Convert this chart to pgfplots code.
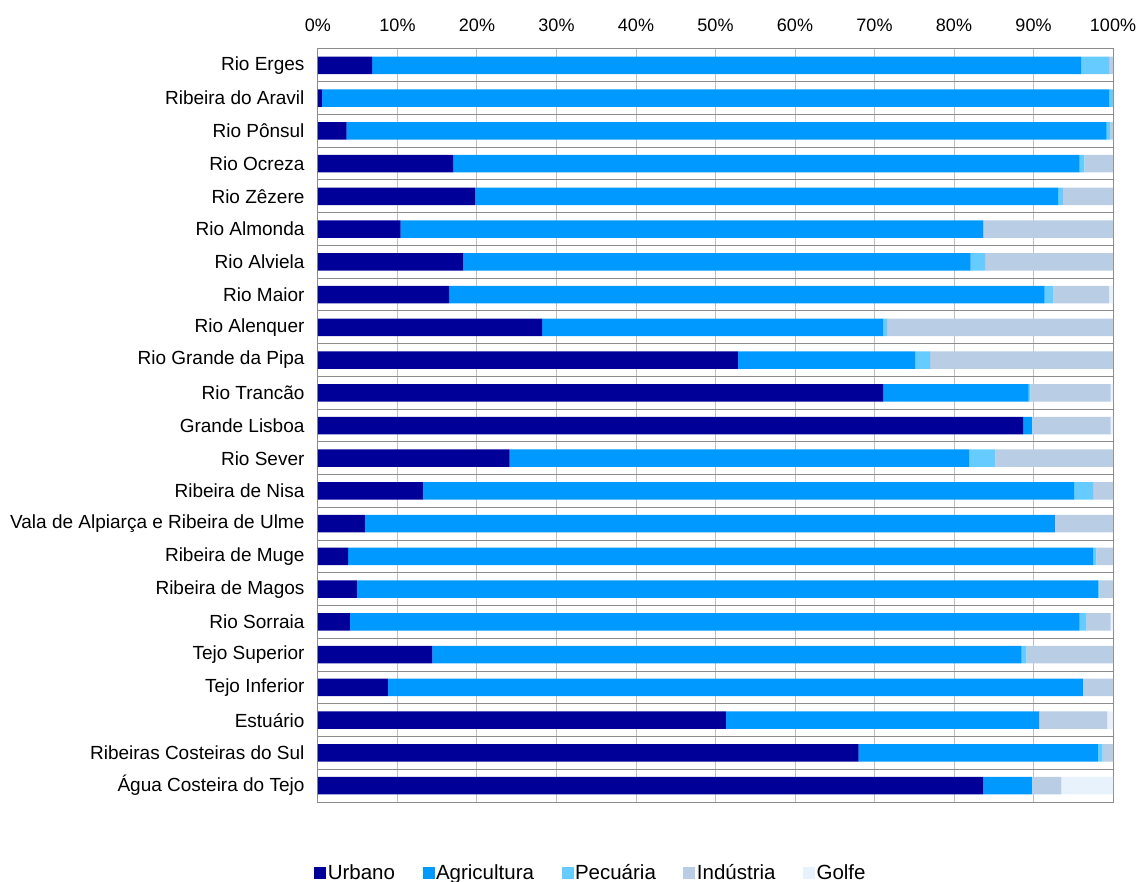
\documentclass[border=0pt]{standalone}
\usepackage{pgfplots}
\pgfplotsset{compat=1.18}
\usepackage{pgfplotstable}
\usepackage{fontspec}
\setmainfont{Liberation Sans}
\definecolor{cUrb}{RGB}{0,0,153}
\definecolor{cAgr}{RGB}{0,153,255}
\definecolor{cPec}{RGB}{102,204,255}
\definecolor{cInd}{RGB}{185,205,229}
\definecolor{cGol}{RGB}{232,242,252}
\definecolor{gridv}{RGB}{192,192,192}
\definecolor{gridh}{RGB}{140,140,140}

\pgfplotstableread{
i U A P I G
0 6.8 89.2 3.5 0.5 0
1 0.5 99.0 0.5 0 0
2 3.6 95.6 0.4 0.4 0
3 17.0 78.8 0.6 3.6 0
4 19.8 73.3 0.6 6.3 0
5 10.4 73.3 0 16.3 0
6 18.3 63.8 1.8 16.1 0
7 16.5 74.9 1.1 7.0 0.5
8 28.2 42.9 0.5 28.4 0
9 52.8 22.3 1.9 23.0 0
10 71.1 18.3 0.2 10.1 0.3
11 88.7 1.1 0 9.9 0.3
12 24.1 57.8 3.3 14.8 0
13 13.2 81.9 2.4 2.5 0
14 5.9 86.8 0 7.3 0
15 3.8 93.7 0.4 2.1 0
16 4.9 93.2 0.2 1.7 0
17 4.0 91.8 0.8 3.1 0.3
18 14.4 74.1 0.6 10.9 0
19 8.8 87.4 0.1 3.7 0
20 51.3 39.4 0 8.6 0.7
21 68.0 30.1 0.6 1.3 0
22 83.7 6.1 0 3.7 6.5
}\data

\begin{document}
\begin{tikzpicture}
\useasboundingbox (-318pt,-80pt) rectangle (822pt,802pt);
\begin{axis}[
  at={(0pt,0pt)}, anchor=south west,
  scale only axis, width=795pt, height=753pt,
  xbar stacked, bar width=17.5pt,
  xmin=0, xmax=100, ymin=-0.5, ymax=22.5, y dir=reverse,
  xtick={0,10,...,100},
  xticklabel pos=right,
  xticklabel={\pgfmathprintnumber{\tick}\%},
  /pgf/number format/assume math mode=true,
  xticklabel style={font=\fontsize{18}{21}\selectfont, yshift=14pt},
  xmajorgrids=true,
  major grid style={gridv, line width=1pt},
  ytick={0,...,22},
  yticklabels={Rio Erges,Ribeira do Aravil,Rio Pônsul,Rio Ocreza,Rio Zêzere,Rio Almonda,Rio Alviela,Rio Maior,Rio Alenquer,Rio Grande da Pipa,Rio Trancão,Grande Lisboa,Rio Sever,Ribeira de Nisa,Vala de Alpiarça e Ribeira de Ulme,Ribeira de Muge,Ribeira de Magos,Rio Sorraia,Tejo Superior,Tejo Inferior,Estuário,Ribeiras Costeiras do Sul,Água Costeira do Tejo},
  yticklabel style={font=\fontsize{19}{22}\selectfont, xshift=-10pt},
  minor ytick={-0.5,0.5,...,22.5},
  yminorgrids=true,
  minor grid style={gridh, line width=1pt},
  major tick length=0pt, minor tick length=0pt,
  axis line style={gridh, line width=1pt},
  every axis plot post/.append style={legend image code/.code={\fill[##1] (0pt,-6pt) rectangle (12pt,6pt);}},
  legend style={at={(0.343,-0.094)}, anchor=center, draw=none, fill=none,
    legend columns=5, font=\fontsize{20.5}{23}\selectfont,
    /tikz/every even column/.append style={column sep=26pt},
    nodes={inner sep=1.5pt}},
  legend cell align=left,
]
\addplot[fill=cUrb, draw=none] table[x=U,y=i]{\data};
\addplot[fill=cAgr, draw=none] table[x=A,y=i]{\data};
\addplot[fill=cPec, draw=none] table[x=P,y=i]{\data};
\addplot[fill=cInd, draw=none] table[x=I,y=i]{\data};
\addplot[fill=cGol, draw=none] table[x=G,y=i]{\data};
\legend{Urbano,Agricultura,Pecuária,Indústria,Golfe}
\end{axis}
\end{tikzpicture}
\end{document}
